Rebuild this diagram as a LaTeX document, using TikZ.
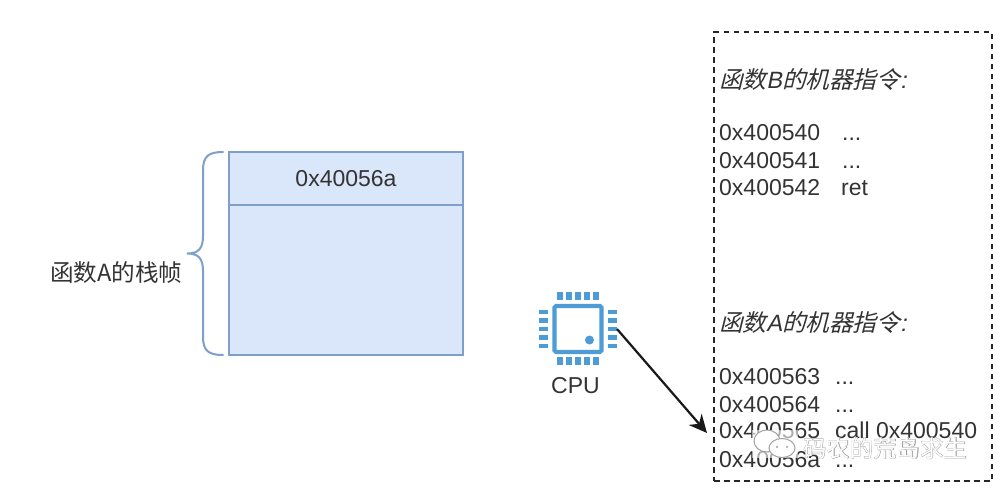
\documentclass[tikz,border=0pt]{standalone}
\usepackage{fontspec}
\setmainfont{Liberation Sans}
\newfontfamily\cjk{Noto Sans CJK SC}
\newfontfamily\cjkit[FakeSlant=0.25]{Noto Sans CJK SC}
\newfontfamily\latit[FakeSlant=0.2]{Liberation Sans}
\newfontfamily\cjkheavy[FakeBold=2.2]{Noto Sans CJK SC}
\usetikzlibrary{arrows.meta}
\definecolor{frameblue}{HTML}{7F9FCB}
\definecolor{framefill}{HTML}{DAE6FA}
\definecolor{chipblue}{HTML}{4D9CD6}
\definecolor{ink}{HTML}{333333}
\definecolor{markgray}{HTML}{A0A0A0}
\tikzset{
  stackbox/.style={draw=frameblue,fill=framefill,line width=2pt},
  code/.style={anchor=base west,inner sep=0pt,text=ink,font=\fontsize{23}{23}\selectfont},
  heading/.style={anchor=base west,inner sep=0pt,text=ink,font=\fontsize{23.6}{24}\selectfont},
  pin/.style={fill=chipblue},
  markline/.style={draw=markgray,line width=1pt},
  marktext/.style={anchor=base west,inner sep=0pt,font=\fontsize{23.4}{24}\selectfont}
}
\begin{document}
\begin{tikzpicture}[x=1pt,y=-1pt]
\useasboundingbox (0,0) rectangle (1001,499);
\fill[white] (0,0) rectangle (1001,499);

% stack frame of function A
\node[stackbox,minimum width=234pt,minimum height=53pt,inner sep=0pt,outer sep=0pt,
      text=ink,font=\fontsize{23}{23}\selectfont] (ret) at (346,178.5) {0x40056a};
\node[stackbox,minimum width=234pt,minimum height=150pt,inner sep=0pt,outer sep=0pt,anchor=north] (frame) at (ret.south) {};

\coordinate (bracetop) at (223,152);
\coordinate (bracetip) at (187,253.5);
\coordinate (bracebot) at (223,355);
\draw[frameblue,line width=2pt,line cap=round]
  (bracetop) .. controls (209,152) and (203,156) .. (203,170)
  -- (203,236) .. controls (203,248) and (199,253.5) .. (bracetip)
  .. controls (199,253.5) and (203,259) .. (203,271)
  -- (203,337) .. controls (203,351) and (209,355) .. (bracebot);
\node[heading] (framelabel) at (50,281) {\cjk 函数A的栈帧};

% processor icon
\node[draw=chipblue,line width=4.2pt,rounded corners=1.5pt,minimum width=47pt,minimum height=46pt,
      inner sep=0pt,outer sep=0pt] (chip) at (578,329) {};
\node[circle,fill=chipblue,minimum size=9pt,inner sep=0pt] (chipdot) at (589.5,340) {};
\foreach \x in {560,569,578,587,596} {
  \fill[pin] (\x-2.6,292) rectangle (\x+2.6,300);
  \fill[pin] (\x-2.6,357) rectangle (\x+2.6,365);
}
\foreach \y in {312,320.5,329,337.5,346} {
  \fill[pin] (539,\y-2.4) rectangle (548,\y+2.4);
  \fill[pin] (608,\y-2.4) rectangle (617,\y+2.4);
}
\node[inner sep=0pt,text=ink,font=\fontsize{23}{23}\selectfont] (cpu) at (575.5,386) {CPU};

% machine code area
\node[draw=black!85,line width=2pt,dash pattern=on 5.5pt off 4.5pt,minimum width=278pt,minimum height=449pt,
      inner sep=0pt,outer sep=0pt,anchor=north west] (mem) at (714,32) {};

\node[heading] (titleb) at (719,88) {\cjkit 函数\latit B\cjkit 的机器指令\latit :};
\node[code] (b0) at (719,140) {0x400540};
\node[code] (b0i) at (842,140) {...};
\node[code] (b1) at (719,168) {0x400541};
\node[code] (b1i) at (842,168) {...};
\node[code] (b2) at (719,195) {0x400542};
\node[code] (b2i) at (841,195) {ret};

\node[heading] (titlea) at (719,331) {\cjkit 函数\latit A\cjkit 的机器指令\latit :};
\node[code] (a0) at (719,384) {0x400563};
\node[code] (a0i) at (835,384) {...};
\node[code] (a1) at (719,412) {0x400564};
\node[code] (a1i) at (835,412) {...};
\node[code] (a2) at (719,438) {0x400565};
\node[code] (a2i) at (835,438) {call 0x400540};
\node[code] (a3) at (719,467) {0x40056a};
\node[code] (a3i) at (835,467) {...};

% instruction pointer
\coordinate (pc) at (617,329);
\coordinate (pctarget) at (707,433);
\draw[black!90,line width=2.2pt,-{Stealth[length=18pt,width=17pt]}] (pc) -- (pctarget);

% account mark over the listing
\fill[white,opacity=.6] (752,430) rectangle (798,458);
\draw[markline,fill=white] (767,441) ellipse (13 and 11);
\draw[markline,fill=white] (782,448) ellipse (13 and 9.5);
\fill[markgray] (777,447) circle (1.2) (787,447) circle (1.2);
\node[marktext,text=markgray,font=\cjkheavy\fontsize{23.4}{24}\selectfont] (markedge) at (803,457) {码农的荒岛求生};
\node[marktext,text=white,font=\cjk\fontsize{23.4}{24}\selectfont] (mark) at (803,457) {码农的荒岛求生};
\end{tikzpicture}
\end{document}
